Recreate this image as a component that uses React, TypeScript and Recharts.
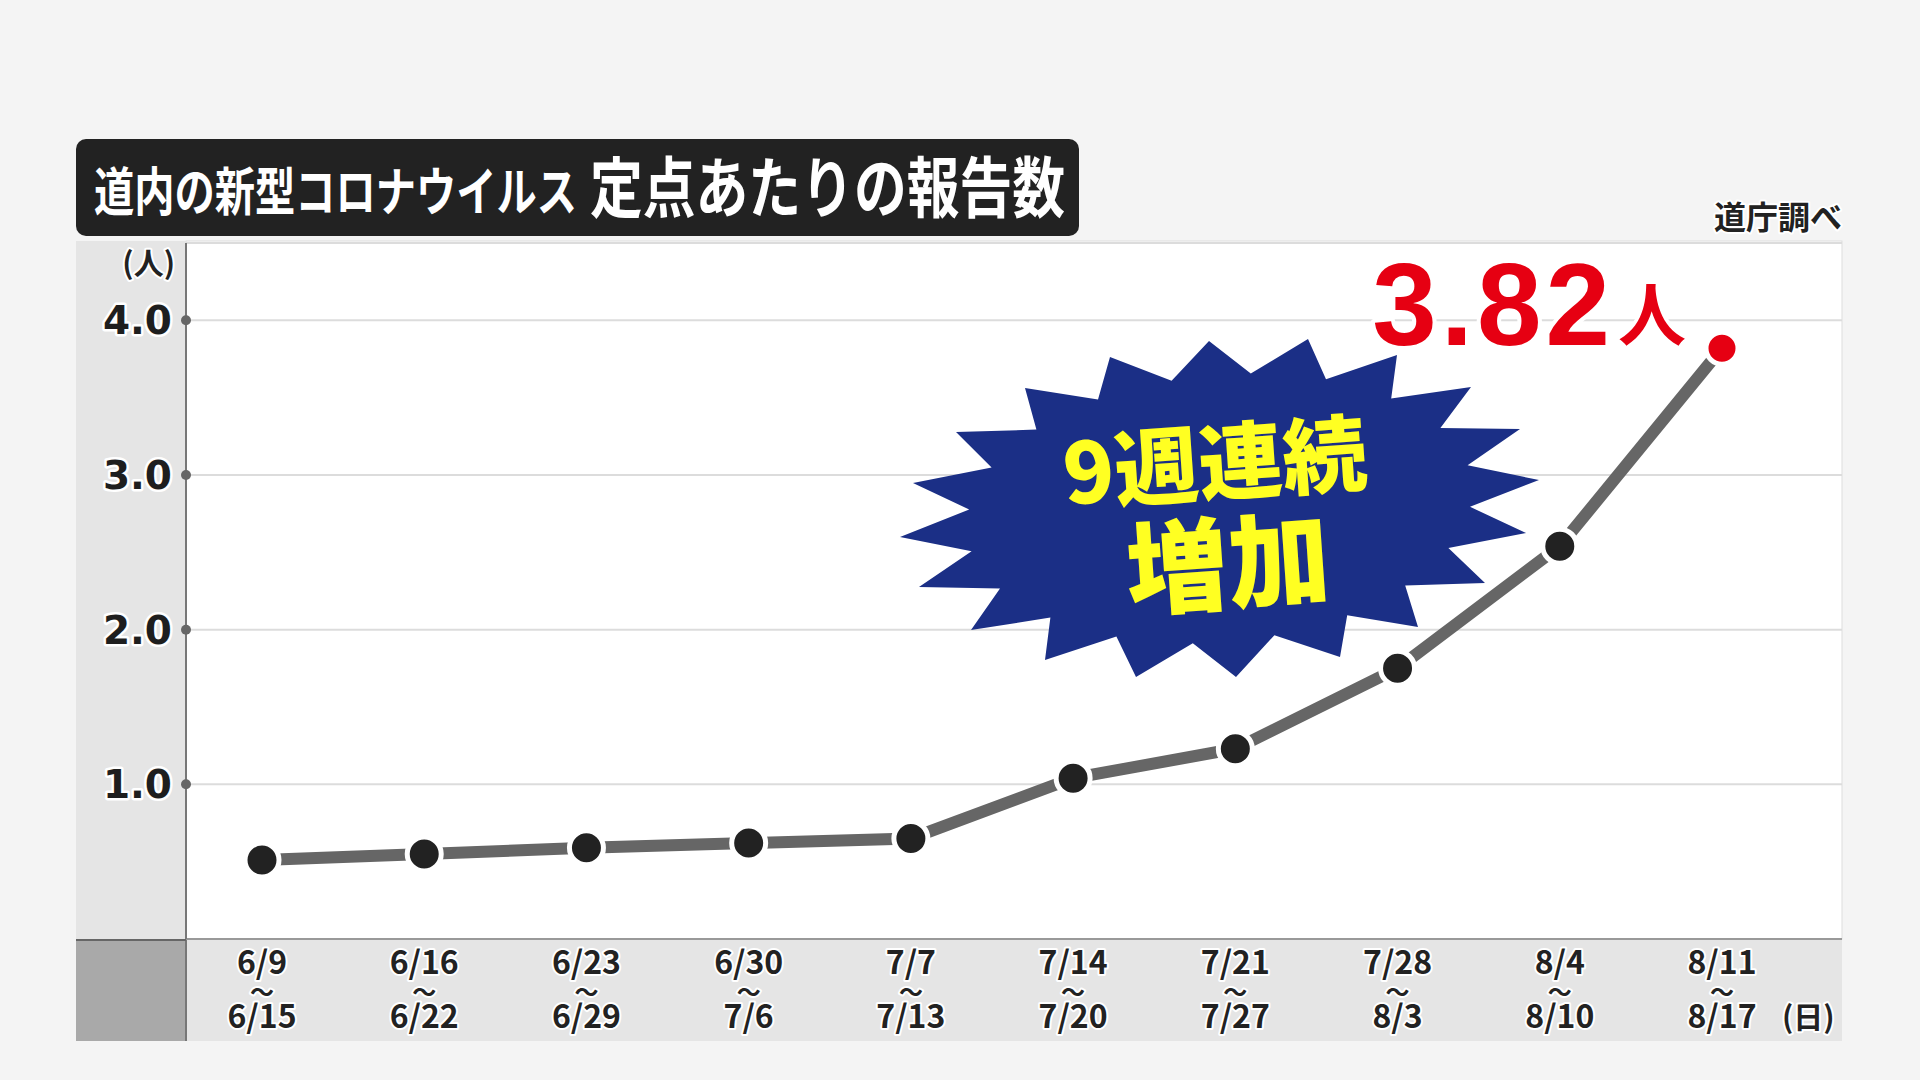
import React from 'react';
import { LineChart, Line, XAxis, YAxis, CartesianGrid } from 'recharts';

// weekly reports per sentinel site, Hokkaido
const weekStart = ['6/9', '6/16', '6/23', '6/30', '7/7', '7/14', '7/21', '7/28', '8/4', '8/11'];
const weekEnd = ['6/15', '6/22', '6/29', '7/6', '7/13', '7/20', '7/27', '8/3', '8/10', '8/17'];
const perSite = [0.51, 0.55, 0.59, 0.62, 0.65, 1.04, 1.23, 1.75, 2.54, 3.82];
const yTicks = [1, 2, 3, 4];

const data = weekStart.map((s, i) => ({ week: s, value: perSite[i] }));
const last = perSite.length - 1;

const JP = '"Noto Sans CJK JP", "Noto Sans", sans-serif';
const NUM = '"Liberation Sans", Arial, sans-serif';
const WIDE = '"DejaVu Sans", sans-serif';

// decorative burst behind the "9週連続 増加" caption
const burstTips: [number, number][] = [
  [1209, 341], [1308, 339], [1397, 355], [1471, 387], [1520, 429], [1539, 480], [1526, 533],
  [1485, 583], [1418, 627], [1340, 657], [1236, 677], [1136, 677], [1045, 660], [971, 630],
  [919, 587], [900, 537], [913, 483], [956, 432], [1025, 388], [1110, 357],
];
const burstCenter: [number, number] = [1220, 508];

const burstPath = () => {
  const pts: string[] = [];
  burstTips.forEach((p, i) => {
    const q = burstTips[(i + 1) % burstTips.length];
    const mx = (p[0] + q[0]) / 2 - burstCenter[0];
    const my = (p[1] + q[1]) / 2 - burstCenter[1];
    pts.push(`${p[0]},${p[1]}`);
    pts.push(`${burstCenter[0] + mx * 0.8},${burstCenter[1] + my * 0.8}`);
  });
  return pts.join(' ');
};

const outline = { stroke: '#fff', paintOrder: 'stroke' as const, strokeLinejoin: 'round' as const };

const YTick = (props: any) => {
  const { x, y, payload } = props;
  return (
    <g>
      <circle cx={x} cy={y} r={5} fill="#666" />
      <text x={x - 14} y={y + 14} textAnchor="end" fontFamily={WIDE} fontWeight={700} fontSize={39}
        fill="#1e1e1e" strokeWidth={5} {...outline}>
        {Number(payload.value).toFixed(1)}
      </text>
    </g>
  );
};

// start / ～ / end stacked in one text block
const XTick = (props: any) => {
  const { x, y, payload } = props;
  const i = weekStart.indexOf(payload.value);
  const txt = { fontFamily: JP, fontWeight: 700, fill: '#222', strokeWidth: 4, ...outline };
  return (
    <g>
      <text x={x} y={y + 35} textAnchor="middle" fontSize={32} {...txt}>
        <tspan x={x}>{payload.value}</tspan>
        <tspan x={x} dy={27} fontSize={24}>～</tspan>
        <tspan x={x} dy={27}>{weekEnd[i]}</tspan>
      </text>
      {i === last && (
        <text x={x + 60} y={y + 89} textAnchor="start" fontSize={30} {...txt}>(日)</text>
      )}
    </g>
  );
};

const renderDot = (props: any) => {
  const { cx, cy, index } = props;
  if (index === last) {
    return (
      <g key={`dot-${index}`}>
        <circle cx={cx} cy={cy} r={16} fill="#e60012" stroke="#fff" strokeWidth={5} />
        <text x={cx - 108} y={cy - 3} textAnchor="end" fontFamily={NUM} fontWeight={700} fontSize={116}
          letterSpacing={4} fill="#e60012" strokeWidth={8} {...outline}>
          {perSite[index].toFixed(2)}
        </text>
        <text x={cx - 36} y={cy - 8} textAnchor="end" fontFamily={JP} fontWeight={700} fontSize={68}
          fill="#e60012" strokeWidth={7} {...outline}>
          人
        </text>
      </g>
    );
  }
  return <circle key={`dot-${index}`} cx={cx} cy={cy} r={17} fill="#222" stroke="#fff" strokeWidth={5} />;
};

export default function App() {
  return (
    <div style={{ position: 'absolute', left: 0, top: 0, width: 1920, height: 1080, background: '#f4f4f4', overflow: 'hidden' }}>
      <svg width={1920} height={1080} style={{ position: 'absolute', left: 0, top: 0 }}>
        <rect x={186} y={241} width={1656} height={698} fill="#fff" stroke="#ddd" strokeWidth={1} />
        <rect x={76} y={241} width={110} height={698} fill="#e5e5e5" />
        <rect x={186} y={939} width={1656} height={102} fill="#e5e5e5" />
        <rect x={76} y={939} width={110} height={102} fill="#a9a9a9" />
        <line x1={186} y1={939} x2={186} y2={1041} stroke="#777" strokeWidth={2} />
        <line x1={76} y1={940} x2={186} y2={940} stroke="#666" strokeWidth={2} />
      </svg>

      <div style={{ position: 'absolute', left: 0, top: 0 }}>
        <LineChart width={1920} height={1080} data={data} margin={{ top: 243, right: 78, bottom: 40, left: 76 }}>
          <CartesianGrid horizontal vertical={false} stroke="#dcdcdc" strokeWidth={2} />
          <XAxis dataKey="week" height={101} interval={0} padding={{ left: 76, right: 120 }}
            axisLine={{ stroke: '#999', strokeWidth: 2 }} tickLine={false} tickSize={0} tickMargin={0} tick={<XTick />} />
          <YAxis width={110} domain={[0, 4.5]} ticks={yTicks} allowDataOverflow
            axisLine={{ stroke: '#777', strokeWidth: 2 }} tickLine={false} tickSize={0} tickMargin={0} tick={<YTick />} />
          <Line type="linear" dataKey="value" stroke="#666" strokeWidth={12} dot={renderDot}
            activeDot={false} isAnimationActive={false} />
        </LineChart>
      </div>

      <svg width={1920} height={1080} style={{ position: 'absolute', left: 0, top: 0, pointerEvents: 'none' }}>
        <rect x={76} y={139} width={1003} height={97} rx={10} fill="#222" />
        <text x={94} y={211} fontFamily={JP} fontWeight={700} fontSize={52} fill="#fff"
          textLength={483} lengthAdjust="spacingAndGlyphs">道内の新型コロナウイルス</text>
        <text x={590} y={212} fontFamily={JP} fontWeight={700} fontSize={66} fill="#fff"
          textLength={475} lengthAdjust="spacingAndGlyphs">定点あたりの報告数</text>

        <text x={1842} y={229} textAnchor="end" fontFamily={JP} fontWeight={700} fontSize={32}
          fill="#222" strokeWidth={4} {...outline}>道庁調べ</text>
        <text x={175} y={274} textAnchor="end" fontFamily={JP} fontWeight={700} fontSize={30}
          fill="#222" strokeWidth={4} {...outline}>(人)</text>

        <polygon points={burstPath()} fill="#1b2f86" />
        <g transform="rotate(-4 1220 510)">
          <text x={1218} y={494} textAnchor="middle" fontFamily={JP} fontWeight={900} fontSize={84}
            fill="#ffff22" textLength={304} lengthAdjust="spacingAndGlyphs">9週連続</text>
          <text x={1224} y={602} textAnchor="middle" fontFamily={JP} fontWeight={900} fontSize={102}
            fill="#ffff22">増加</text>
        </g>
      </svg>
    </div>
  );
}
